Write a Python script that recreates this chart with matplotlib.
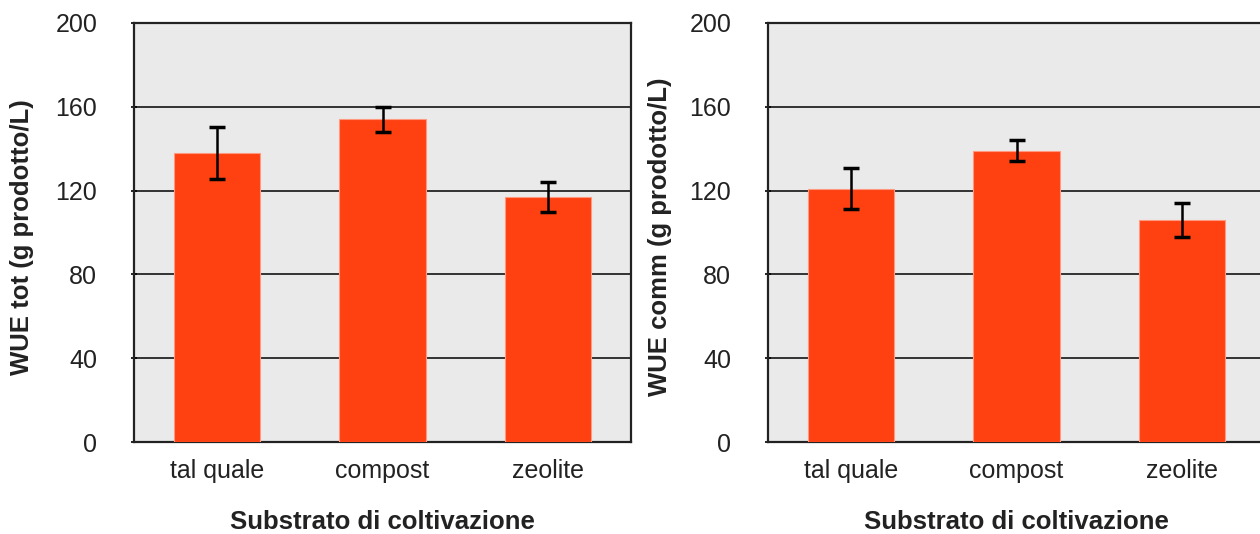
import numpy as np
import matplotlib.pyplot as plt

plt.rcParams['font.family'] = ['Liberation Sans', 'DejaVu Sans']

categories = ['tal quale', 'compost', 'zeolite']
wue_tot = [138, 154, 117]
wue_tot_err = [12.5, 6, 7]
wue_comm = [121, 139, 106]
wue_comm_err = [10, 5, 8]

W, H = 1260, 534
fig = plt.figure(figsize=(W / 100, H / 100), dpi=100)

bar_color = '#FF4112'
x = np.arange(len(categories))

panels = [
    (134, wue_tot, wue_tot_err, 'WUE tot (g prodotto/L)', -0.225),
    (768, wue_comm, wue_comm_err, 'WUE comm (g prodotto/L)', -0.217),
]

for left, vals, errs, ylab, ylab_x in panels:
    ax = fig.add_axes([left / W, (H - 442) / H, 497 / W, 419 / H])
    ax.set_facecolor('#EAEAEA')
    ax.bar(x, vals, width=0.52, color=bar_color, edgecolor='#FF9A80',
           linewidth=0.8, zorder=3)
    ax.errorbar(x, vals, yerr=errs, fmt='none', ecolor='black',
                elinewidth=1.8, capsize=6, capthick=2.5, zorder=4)
    ax.set_xlim(-0.5, 2.5)
    ax.set_ylim(0, 200)
    ax.set_yticks([0, 40, 80, 120, 160, 200])
    ax.yaxis.grid(True, color='#333333', linewidth=1.4, zorder=1)
    ax.set_axisbelow(True)
    for s in ax.spines.values():
        s.set_color('#222222')
        s.set_linewidth(1.6)
    ax.set_xticks(x)
    ax.set_xticklabels(categories, fontsize=18, color='#222222')
    ax.tick_params(axis='x', length=0, pad=12)
    ax.tick_params(axis='y', direction='inout', length=5, width=1.2,
                   labelsize=18, pad=24, labelcolor='#222222')
    ax.set_ylabel(ylab, fontsize=18.5, fontweight='bold', color='#222222')
    ax.yaxis.set_label_coords(ylab_x, 0.49)
    ax.set_xlabel('Substrato di coltivazione', fontsize=18.5,
                  fontweight='bold', color='#222222')
    ax.xaxis.set_label_coords(0.5, -0.19)
    ax.xaxis.label.set_va('center')
    ax.yaxis.label.set_va('center')

fig.savefig('out.png', dpi=100)
